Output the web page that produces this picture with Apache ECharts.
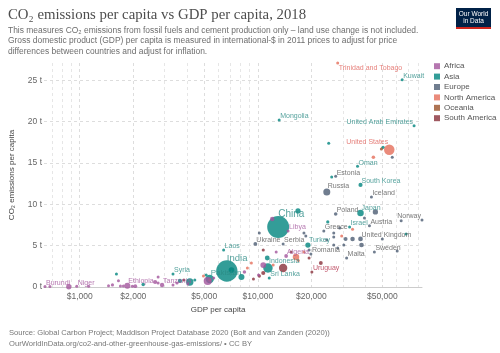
<!DOCTYPE html>
<html>
<head>
<meta charset="utf-8">
<script src="https://cdn.jsdelivr.net/npm/echarts@6/dist/echarts.min.js"></script>
<style>
  html, body { margin: 0; padding: 0; background: #fff; }
  #chart { width: 500px; height: 353px; }
</style>
</head>
<body>
<div id="chart"></div>
<script>
// Data (GDP per capita in int.-$, CO2 in t per person, population in millions)
const countries = [
  'Trinidad and Tobago', 'Kuwait', 'Mongolia', 'United Arab Emirates', 'Kazakhstan',
  'United States', 'Australia', 'Saudi Arabia', 'Canada', 'Luxembourg',
  'Oman', 'Estonia', 'Turkmenistan', 'Russia', 'South Korea',
  'Iceland', 'Poland', 'Japan', 'Germany', 'Netherlands',
  'Norway', 'Ireland', 'Austria', 'Israel', 'Malaysia',
  'Greece', 'Puerto Rico', 'Slovakia', 'Slovenia', 'Cyprus',
  'Bahamas', 'Spain', 'Italy', 'United Kingdom', 'France',
  'Denmark', 'Singapore', 'Sweden', 'Switzerland', 'Malta',
  'Romania', 'Portugal', 'Croatia', 'Hungary', 'Latvia',
  'Turkey', 'Uruguay', 'Argentina', 'Chile', 'Libya',
  'South Africa', 'China', 'Iran', 'Ukraine', 'Bosnia and Herzegovina',
  'Serbia', 'Belarus', 'Montenegro', 'Bulgaria', 'Laos',
  'India', 'Pakistan', 'Indonesia', 'Sri Lanka', 'Brazil',
  'Mexico', 'Algeria', 'Thailand', 'Philippines', 'Bangladesh',
  'Nigeria', 'Egypt', 'Vietnam', 'Colombia', 'Peru',
  'Morocco', 'Jamaica', 'Cuba', 'Tunisia', 'Paraguay',
  'Venezuela', 'Dominican Republic', 'Gabon', 'Ecuador', 'Panama',
  'Costa Rica', 'Burundi', 'Central African Republic', 'DR Congo', 'Niger',
  'Malawi', 'Madagascar', 'Mozambique', 'North Korea', 'Zimbabwe',
  'Sierra Leone', 'Guinea', 'Ethiopia', 'Rwanda', 'Uganda',
  'Afghanistan', 'Kenya', 'Zambia', 'Cameroon', 'Tanzania',
  'Syria', 'Senegal', 'Ghana', 'Myanmar', 'Bolivia',
  "Cote d'Ivoire", 'Cambodia', 'Honduras', 'Kyrgyzstan', 'Nicaragua',
  'Angola'
];
const continents = [
  'North America', 'Asia', 'Asia', 'Asia', 'Asia',
  'North America', 'Oceania', 'Asia', 'North America', 'Europe',
  'Asia', 'Europe', 'Asia', 'Europe', 'Asia',
  'Europe', 'Europe', 'Asia', 'Europe', 'Europe',
  'Europe', 'Europe', 'Europe', 'Asia', 'Asia',
  'Europe', 'North America', 'Europe', 'Europe', 'Europe',
  'North America', 'Europe', 'Europe', 'Europe', 'Europe',
  'Europe', 'Asia', 'Europe', 'Europe', 'Europe',
  'Europe', 'Europe', 'Europe', 'Europe', 'Europe',
  'Asia', 'South America', 'South America', 'South America', 'Africa',
  'Africa', 'Asia', 'Asia', 'Europe', 'Europe',
  'Europe', 'Europe', 'Europe', 'Europe', 'Asia',
  'Asia', 'Asia', 'Asia', 'Asia', 'South America',
  'North America', 'Africa', 'Asia', 'Asia', 'Asia',
  'Africa', 'Africa', 'Asia', 'South America', 'South America',
  'Africa', 'North America', 'North America', 'Africa', 'South America',
  'South America', 'North America', 'Africa', 'South America', 'North America',
  'North America', 'Africa', 'Africa', 'Africa', 'Africa',
  'Africa', 'Africa', 'Africa', 'Asia', 'Africa',
  'Africa', 'Africa', 'Africa', 'Africa', 'Africa',
  'Asia', 'Africa', 'Africa', 'Africa', 'Africa',
  'Asia', 'Africa', 'Africa', 'Asia', 'South America',
  'Africa', 'Asia', 'North America', 'Asia', 'North America',
  'Africa'
];
const gdpPerCapita = [
  28090, 64650, 13180, 75420, 25010,
  54720, 49400, 50500, 44570, 56880,
  36300, 27370, 26000, 24400, 37730,
  43440, 27370, 37730, 45730, 39710,
  83560, 63830, 42350, 32760, 24710,
  23470, 34040, 26690, 26690, 28820,
  29570, 31120, 34040, 37730, 38210,
  50030, 68070, 45150, 60640, 31520,
  19860, 28090, 26690, 30400, 24400,
  19110, 20120, 22590, 19400, 14790,
  12050, 13010, 16810, 9685, 10195,
  13870, 18160, 18600, 19400, 6425,
  6700, 5370, 11400, 11590, 13870,
  16390, 14420, 11296, 8093, 4150,
  5233, 10730, 7118, 10730, 10195,
  8410, 8739, 9201, 10090, 9450,
  10730, 12200, 12680, 15370, 18160,
  16900, 638, 680, 868, 962,
  1122, 1451, 1527, 1607, 1650,
  1692, 1758, 1851, 1974, 2051,
  2272, 2651, 2755, 2755, 2900,
  3340, 3340, 3516, 3653, 3846,
  4048, 4429, 4950, 5130, 5369,
  5651
];
const co2PerCapita = [
  27.1, 25.06, 20.2, 19.5, 17.4,
  16.6, 16.7, 16.9, 15.7, 15.7,
  14.6, 13.4, 13.3, 11.5, 12.35,
  10.9, 8.84, 8.96, 9.08, 8.35,
  8.1, 8.0, 7.4, 7.26, 7.87,
  6.78, 7.0, 6.54, 6.05, 7.14,
  6.17, 5.81, 5.81, 5.81, 5.08,
  5.81, 6.4, 4.24, 4.36, 3.51,
  4.0, 4.72, 5.08, 5.08, 5.69,
  5.08, 1.82, 2.91, 3.51, 6.78,
  8.23, 7.26, 9.2, 5.21, 6.54,
  5.21, 6.54, 6.17, 4.48, 4.48,
  1.94, 0.97, 2.3, 1.09, 2.3,
  3.63, 3.75, 3.51, 1.21, 0.61,
  0.73, 2.66, 2.06, 1.7, 1.33,
  1.82, 2.3, 2.91, 1.45, 0.97,
  4.48, 2.66, 4.24, 4.24, 4.24,
  3.2, 0.05, 0.05, 0.03, 0.1,
  0.08, 0.15, 0.25, 1.57, 0.75,
  0.12, 0.12, 0.14, 0.1, 0.1,
  0.3, 0.61, 1.2, 0.48, 0.24,
  1.57, 0.24, 0.48, 0.73, 0.85,
  0.36, 0.85, 1.33, 1.45, 0.85,
  1.09
];
const population = [
  1.4, 4.1, 3.2, 9.6, 18.3,
  327, 24.9, 33.7, 37.1, 0.6,
  4.8, 1.3, 5.9, 146, 51.2,
  0.35, 38, 127, 83, 17,
  5.3, 4.8, 8.9, 8.4, 31.5,
  10.5, 3.2, 5.5, 2.1, 1.2,
  0.4, 46.7, 60.6, 67.1, 64.9,
  5.8, 5.8, 10.2, 8.5, 0.48,
  19.5, 10.3, 4.1, 9.8, 1.9,
  82.3, 3.4, 44.4, 18.7, 6.7,
  57.8, 1428, 81.8, 44.2, 3.3,
  7, 9.5, 0.6, 7, 7.1,
  1353, 212, 268, 21.2, 209,
  126, 42.2, 69.4, 106.7, 161,
  196, 98.4, 95.5, 49.7, 32,
  36, 2.9, 11.3, 11.6, 7,
  28.9, 10.6, 2.1, 17, 4.2,
  5, 11.2, 4.7, 84, 22.4,
  18.1, 26.3, 29.5, 25.5, 14.4,
  7.7, 12.4, 109, 12.3, 42.7,
  37.2, 51.4, 17.4, 25.2, 56.3,
  16.9, 15.9, 29.8, 53.7, 11.4,
  25.1, 16.2, 9.6, 6.3, 6.5,
  30.8
];

const legendOrder = ['Africa', 'Asia', 'Europe', 'North America', 'Oceania', 'South America'];
const xMajorTicks = [1000, 2000, 5000, 10000, 20000, 50000];
const xMinorTicks = [700, 800, 900, 3000, 4000, 6000, 7000, 8000, 9000, 30000, 40000, 60000, 70000, 80000];
const yTicks = [0, 5, 10, 15, 20, 25];
const labelled = [
  'Trinidad and Tobago', 'Kuwait', 'Mongolia', 'United Arab Emirates', 'United States',
  'Oman', 'Estonia', 'Russia', 'South Korea', 'Iceland', 'Poland', 'Japan', 'Norway',
  'Austria', 'Israel', 'Greece', 'United Kingdom', 'Sweden', 'Malta', 'Romania', 'Turkey',
  'Uruguay', 'Algeria', 'Indonesia', 'Sri Lanka', 'China', 'Libya', 'Ukraine', 'Serbia',
  'Laos', 'India', 'Pakistan', 'Syria', 'Tanzania', 'Ethiopia', 'Niger', 'Burundi'
];

const COLORS = {
  'Africa': '#a2559c',
  'Asia': '#00847e',
  'Europe': '#4c5d73',
  'North America': '#e56e5a',
  'Oceania': '#9a5129',
  'South America': '#883039'
};
const LABEL_COLORS = {
  'Africa': '#a2559c',
  'Asia': '#2a8b85',
  'Europe': '#555',
  'North America': '#e0605a',
  'Oceania': '#9a5129',
  'South America': '#b3304a'
};
// label tweaks (style only)
const LABEL_STYLE = {
  'Trinidad and Tobago': { side: 'below' },
  'United Arab Emirates': { side: 'left' },
  'United States': { side: 'left' },
  'Norway': { side: 'left' },
  'China': { fontSize: 10, dx: 0 },
  'India': { fontSize: 9.5, dx: 0 },
  'Pakistan': { fontSize: 8 }
};
const SANS = '"Liberation Sans", Arial, sans-serif';
const X_MIN = 630;
const X_MAX = 83560;

const sizeOf = (pop) => Math.max(3, 0.58 * Math.sqrt(pop));

const makeLabel = (name, continent, size) => {
  const r = size / 2;
  const st = LABEL_STYLE[name] || {};
  let dx = st.dx !== undefined ? st.dx : 1;
  let dy = -(r + 2);
  let align = 'left';
  if (st.side === 'left') { dx = -1; align = 'right'; }
  if (st.side === 'below') { dy = r + 3.5; }
  return {
    show: true,
    formatter: name,
    position: [r + dx, r + dy],
    align: align,
    verticalAlign: 'middle',
    fontSize: st.fontSize || 7,
    fontFamily: SANS,
    color: LABEL_COLORS[continent]
  };
};

// draw big bubbles first so the small ones stay visible
const drawOrder = ['Asia', 'Europe', 'North America', 'South America', 'Africa', 'Oceania'];
const series = drawOrder.map((cont) => {
  const idx = countries.map((c, i) => i).filter((i) => continents[i] === cont);
  idx.sort((a, b) => population[b] - population[a]);
  return {
    type: 'scatter',
    name: cont,
    xAxisIndex: 0,
    yAxisIndex: 0,
    itemStyle: { color: COLORS[cont], opacity: 0.8 },
    emphasis: { disabled: true },
    data: idx.map((i) => {
      const size = sizeOf(population[i]);
      const item = {
        name: countries[i],
        value: [gdpPerCapita[i], co2PerCapita[i], population[i]],
        symbolSize: size
      };
      if (labelled.includes(countries[i])) item.label = makeLabel(countries[i], cont, size);
      return item;
    })
  };
});

const chart = echarts.init(document.getElementById('chart'));
chart.setOption({
  animation: false,
  backgroundColor: '#fff',
  title: {
    text: 'CO₂ emissions per capita vs GDP per capita, 2018',
    subtext: 'This measures CO₂ emissions from fossil fuels and cement production only – land use change is not included.\n' +
      'Gross domestic product (GDP) per capita is measured in international-$ in 2011 prices to adjust for price\n' +
      'differences between countries and adjust for inflation.',
    left: 8,
    top: 8,
    padding: 0,
    itemGap: 2,
    textStyle: { fontFamily: '"Liberation Serif", Georgia, serif', fontSize: 14.8, fontWeight: 'normal', color: '#4d4d4d' },
    subtextStyle: { fontFamily: SANS, fontSize: 8.45, lineHeight: 10.5, color: '#6e6e6e' }
  },
  legend: {
    orient: 'vertical',
    left: 434,
    top: 62,
    padding: 0,
    icon: 'rect',
    itemWidth: 6,
    itemHeight: 6,
    itemGap: 2,
    data: legendOrder,
    textStyle: { fontFamily: SANS, fontSize: 8, lineHeight: 8.4, color: '#555', padding: [0, 0, 0, -1] }
  },
  grid: { left: 40, right: 78, top: 63, bottom: 66, containLabel: false },
  xAxis: [
    {
      type: 'log',
      min: X_MIN,
      max: X_MAX,
      name: 'GDP per capita',
      nameLocation: 'middle',
      nameGap: 17,
      nameTextStyle: { fontFamily: SANS, fontSize: 8, color: '#444', padding: [0, 30, 0, 0] },
      axisLine: { show: true, lineStyle: { color: '#ccc', width: 1 } },
      axisTick: { show: false, customValues: xMajorTicks },
      axisLabel: {
        customValues: xMajorTicks,
        formatter: (v) => '$' + Math.round(v).toLocaleString('en-US'),
        fontFamily: SANS,
        fontSize: 8.5,
        color: '#666',
        margin: 5
      },
      splitLine: { show: true, lineStyle: { color: '#ddd', type: [3, 3], width: 1 } }
    },
    {
      type: 'log',
      min: X_MIN,
      max: X_MAX,
      position: 'bottom',
      axisLine: { show: false },
      axisTick: { show: false, customValues: xMinorTicks },
      axisLabel: { show: false },
      splitLine: { show: true, lineStyle: { color: '#e6e6e6', type: [3, 3], width: 1 } }
    }
  ],
  yAxis: {
    type: 'value',
    min: 0,
    max: 27.1,
    name: 'CO₂ emissions per capita',
    nameLocation: 'middle',
    nameGap: 28,
    nameTextStyle: { fontFamily: SANS, fontSize: 8, color: '#444' },
    axisLine: { show: false },
    axisTick: { show: false, customValues: yTicks },
    axisLabel: {
      customValues: yTicks,
      formatter: (v) => v + ' t',
      fontFamily: SANS,
      fontSize: 8.5,
      color: '#666',
      margin: 2,
      padding: [0, 0, 7, 0]
    },
    splitLine: { show: true, lineStyle: { color: '#ddd', type: [3, 3], width: 1 } }
  },
  graphic: [
    {
      type: 'group',
      left: 456,
      top: 8,
      children: [
        { type: 'rect', shape: { x: 0, y: 0, width: 35, height: 21 }, style: { fill: '#002147' } },
        { type: 'rect', shape: { x: 0, y: 19, width: 35, height: 2 }, style: { fill: '#ce261e' } },
        { type: 'text', x: 17.5, y: 6, style: { text: 'Our World', fill: '#fff', fontSize: 6.5, fontFamily: SANS, align: 'center', verticalAlign: 'middle' } },
        { type: 'text', x: 17.5, y: 13.5, style: { text: 'in Data', fill: '#fff', fontSize: 6.5, fontFamily: SANS, align: 'center', verticalAlign: 'middle' } }
      ]
    },
    {
      type: 'text',
      left: 9,
      top: 327,
      style: {
        text: 'Source: Global Carbon Project; Maddison Project Database 2020 (Bolt and van Zanden (2020))\n' +
          'OurWorldInData.org/co2-and-other-greenhouse-gas-emissions/ • CC BY',
        fill: '#777',
        fontSize: 7.6,
        lineHeight: 11,
        fontFamily: SANS
      }
    }
  ],
  series: series
});
</script>
</body>
</html>
